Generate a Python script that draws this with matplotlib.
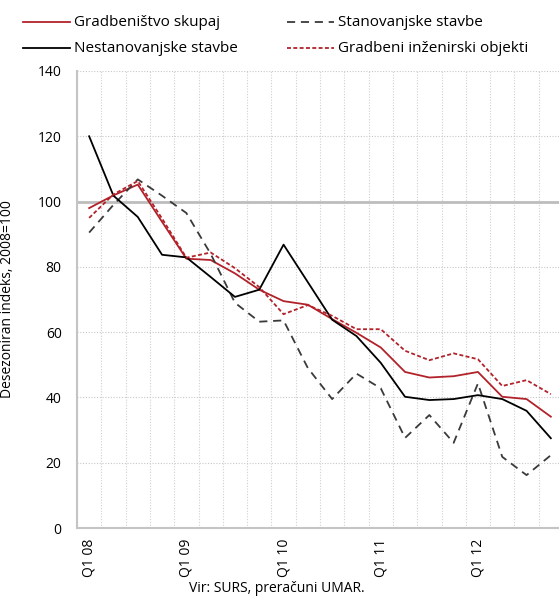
import numpy as np
import matplotlib.pyplot as plt
from matplotlib.lines import Line2D

plt.rcParams['font.family'] = ['Open Sans', 'DejaVu Sans']

quarters = ['Q1 08', 'Q2 08', 'Q3 08', 'Q4 08',
            'Q1 09', 'Q2 09', 'Q3 09', 'Q4 09',
            'Q1 10', 'Q2 10', 'Q3 10', 'Q4 10',
            'Q1 11', 'Q2 11', 'Q3 11', 'Q4 11',
            'Q1 12', 'Q2 12', 'Q3 12', 'Q4 12']

skupaj = [98.0, 101.9, 105.2, 93.8, 82.5, 82.1, 78.0, 73.0, 69.5, 68.4,
          64.0, 59.8, 55.3, 47.8, 46.1, 46.5, 47.8, 40.2, 39.5, 34.1]
stanovanjske = [90.5, 99.0, 106.8, 101.8, 96.5, 84.0, 69.0, 63.2, 63.6, 49.0,
                39.5, 47.3, 42.8, 27.6, 34.6, 26.1, 44.3, 21.8, 16.2, 22.3]
nestanovanjske = [120.0, 101.8, 95.3, 83.7, 82.9, 76.9, 70.8, 73.0, 86.8, 75.3,
                  63.8, 58.8, 50.6, 40.2, 39.2, 39.5, 40.7, 39.5, 35.9, 27.5]
inzenirski = [95.0, 102.2, 106.3, 94.8, 82.8, 84.4, 79.6, 73.8, 65.5, 68.3,
              65.0, 60.9, 60.9, 54.3, 51.4, 53.5, 51.7, 43.5, 45.3, 41.0]

RED = '#b2222a'
GREY_DASH = (4.5, 3.2)
RED_DASH = (2.2, 1.3)
W, H = 559, 596

fig = plt.figure(figsize=(W / 100, H / 100), dpi=100)
ax = fig.add_axes([77 / W, 1 - 528 / H, 486 / W, 457 / H])

x = np.arange(len(quarters))
ax.plot(x, skupaj, color=RED, lw=1.3)
ax.plot(x, stanovanjske, color='#3a3a3a', lw=1.3, dashes=GREY_DASH)
ax.plot(x, nestanovanjske, color='black', lw=1.3)
ax.plot(x, inzenirski, color=RED, lw=1.3, dashes=RED_DASH)

ax.set_xlim(-0.5, len(quarters) - 0.5)
ax.set_ylim(0, 140)
ax.set_yticks(np.arange(0, 141, 20))
ax.set_xticks(x[::4])
ax.set_xticklabels(quarters[::4], rotation=90)
ax.set_xticks(np.arange(-0.5, len(quarters), 1), minor=True)
ax.tick_params(axis='both', length=0, labelsize=10)
ax.tick_params(axis='y', pad=11)
ax.tick_params(axis='x', pad=8)
ax.tick_params(axis='x', which='minor', length=0)

ax.grid(axis='y', which='major', color='#c8c8c8', lw=0.8, ls=(0, (1, 1.5)))
ax.grid(axis='x', which='minor', color='#d0d0d0', lw=0.8, ls=(0, (1, 1.5)))
ax.axhline(100, color='#bdbdbd', lw=2, zorder=1)
ax.set_axisbelow(True)

for side in ['top', 'right']:
    ax.spines[side].set_visible(False)
for side in ['left', 'bottom']:
    ax.spines[side].set_color('#c4c4c4')
    ax.spines[side].set_linewidth(1.5)

ax.set_ylabel('Desezoniran indeks, 2008=100', fontsize=10)
ax.yaxis.set_label_coords(-62 / 486, 0.5)

fig.text(277 / W, 1 - 588 / H, 'Vir: SURS, preračuni UMAR.', ha='center',
         va='center', fontsize=10)

# legend drawn by hand to match the two-column layout
entries = [('Gradbeništvo skupaj', RED, None, 23, 22),
           ('Nestanovanjske stavbe', 'black', None, 23, 48),
           ('Stanovanjske stavbe', '#3a3a3a', GREY_DASH, 287, 22),
           ('Gradbeni inženirski objekti', RED, RED_DASH, 287, 48)]
for label, color, dash, px, py in entries:
    yy = 1 - py / H
    ln = Line2D([px / W, (px + 47) / W], [yy, yy], color=color, lw=1.3)
    if dash:
        ln.set_dashes(dash)
    fig.add_artist(ln)
    fig.text((px + 51) / W, yy, label, va='center', ha='left', fontsize=11)

fig.savefig('out.png', dpi=100)
